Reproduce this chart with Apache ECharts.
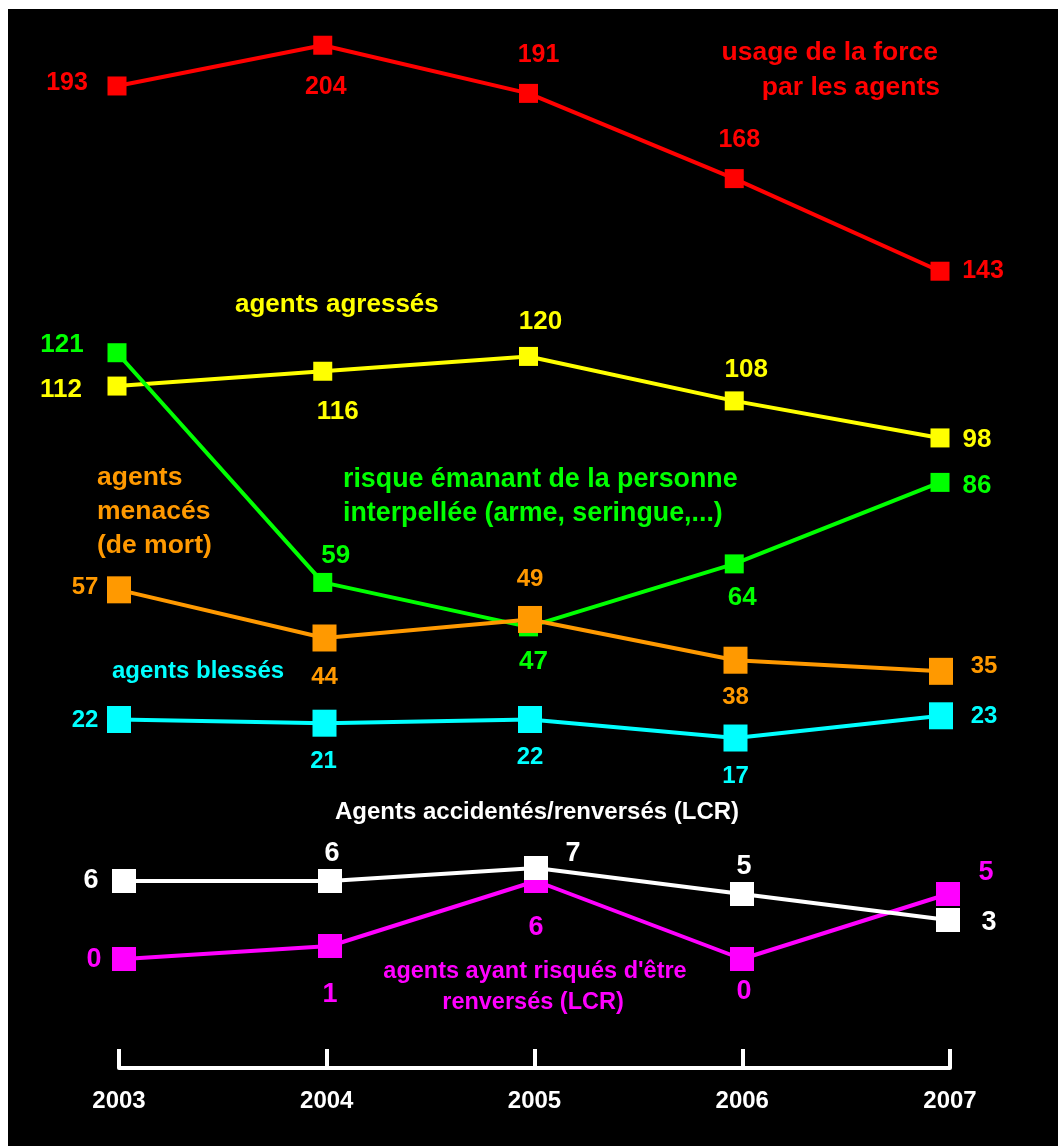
<!DOCTYPE html>
<html>
<head>
<meta charset="utf-8">
<script src="https://cdn.jsdelivr.net/npm/echarts@6/dist/echarts.min.js"></script>
<style>
  html, body { margin: 0; padding: 0; background: #ffffff; }
  #bg { position: absolute; left: 8px; top: 9px; width: 1050px; height: 1137px; background: #000000; }
  #chart { position: absolute; left: 0; top: 0; width: 1058px; height: 1146px; }
</style>
</head>
<body>
<div id="bg"></div>
<div id="chart"></div>
<script>
// ---- data ----
const years = ['2003', '2004', '2005', '2006', '2007'];
const usageForce = [193, 204, 191, 168, 143];
const agentsAgresses = [112, 116, 120, 108, 98];
const risquePersonne = [121, 59, 47, 64, 86];
const agentsMenaces = [57, 44, 49, 38, 35];
const agentsBlesses = [22, 21, 22, 17, 23];
const agentsAccidentes = [6, 6, 7, 5, 3];
const agentsRisques = [0, 1, 6, 0, 5];

// ---- label placement (offset of value label from its marker) ----
const offRed = [[-50, -3], [3, 42], [10, -38], [5, -38], [43, 0]];
const offYellow = [[-56, 4], [15, 41], [12, -35], [12, -31], [37, 2]];
const offGreen = [[-55, -8], [13, -27], [5, 35], [8, 34], [37, 3]];
const offOrange = [[-34, -2], [0, 39], [0, -40], [0, 37], [43, -5]];
const offCyan = [[-34, 1], [-1, 38], [0, 38], [0, 38], [43, 1]];
const offWhite = [[-33, 0], [2, -27], [37, -14], [2, -27], [41, 3]];
const offMagenta = [[-30, 1], [0, 49], [0, 47], [2, 33], [38, -21]];

const FONT = "'Liberation Sans', Arial, sans-serif";

function mkSeries(name, values, offsets, color, gridIdx, symSize, fontSize, z) {
  return {
    name: name,
    type: 'line',
    xAxisIndex: gridIdx,
    yAxisIndex: gridIdx,
    z: z,
    symbol: 'rect',
    symbolSize: symSize,
    showSymbol: true,
    lineStyle: { color: color, width: 4 },
    itemStyle: { color: color },
    emphasis: { disabled: true },
    data: values.map((v, i) => ({
      value: v,
      label: {
        show: true,
        position: 'inside',
        offset: offsets[i],
        color: color,
        fontSize: fontSize,
        fontWeight: 'bold',
        fontFamily: FONT
      }
    }))
  };
}

function txt(text, x, y, color, size, align) {
  return {
    type: 'text',
    z: 50,
    style: {
      text: text,
      x: x,
      y: y,
      fill: color,
      font: 'bold ' + size + 'px ' + FONT,
      align: align || 'left',
      verticalAlign: 'middle'
    }
  };
}

const hiddenX = (g) => ({
  gridIndex: g, type: 'category', data: years, boundaryGap: false, show: false
});
const hiddenY = (g, max) => ({
  gridIndex: g, type: 'value', min: 0, max: max, show: false, splitLine: { show: false }
});

const chart = echarts.init(document.getElementById('chart'));
chart.setOption({
  animation: false,
  backgroundColor: 'transparent',
  grid: [
    { left: 117, right: 118, top: 23, height: 778 },   // upper series
    { left: 124, right: 110, top: 829, height: 130 },  // lower series
    { left: 119, right: 108, top: 1000, height: 68 },  // year axis
    { left: 119, right: 117, top: 23, height: 778 }    // orange / cyan
  ],
  xAxis: [
    hiddenX(0),
    hiddenX(1),
    {
      gridIndex: 2, type: 'category', data: years, boundaryGap: false,
      axisLine: { show: true, lineStyle: { color: '#ffffff', width: 4 } },
      axisTick: { show: true, inside: true, length: 19, lineStyle: { color: '#ffffff', width: 4 } },
      axisLabel: { color: '#ffffff', fontSize: 24, fontWeight: 'bold', fontFamily: FONT, margin: 21 },
      splitLine: { show: false }
    },
    hiddenX(3)
  ],
  yAxis: [
    hiddenY(0, 210),
    hiddenY(1, 10),
    hiddenY(2, 1),
    hiddenY(3, 210)
  ],
  series: [
    mkSeries('usage de la force par les agents', usageForce, offRed, '#ff0000', 0, 19, 25, 2),
    mkSeries('agents agressés', agentsAgresses, offYellow, '#ffff00', 0, 19, 26, 3),
    mkSeries('risque émanant de la personne interpellée', risquePersonne, offGreen, '#00ff00', 0, 19, 26, 4),
    mkSeries('agents menacés (de mort)', agentsMenaces, offOrange, '#ff9900', 3, [24, 27], 24, 5),
    mkSeries('agents blessés', agentsBlesses, offCyan, '#00ffff', 3, [24, 27], 24, 6),
    mkSeries("agents ayant risqués d'être renversés (LCR)", agentsRisques, offMagenta, '#ff00ff', 1, 24, 27, 7),
    mkSeries('Agents accidentés/renversés (LCR)', agentsAccidentes, offWhite, '#ffffff', 1, 24, 27, 8)
  ],
  graphic: [
    txt('usage de la force', 938, 53, '#ff0000', 26.5, 'right'),
    txt('par les agents', 940, 88, '#ff0000', 26.5, 'right'),
    txt('agents agressés', 235, 305, '#ffff00', 26),
    txt('risque émanant de la personne', 343, 480, '#00ff00', 26.8),
    txt('interpellée (arme, seringue,...)', 343, 514, '#00ff00', 26.8),
    txt('agents', 97, 478, '#ff9900', 26.5),
    txt('menacés', 97, 512, '#ff9900', 26.5),
    txt('(de mort)', 97, 546, '#ff9900', 26.5),
    txt('agents blessés', 112, 671, '#00ffff', 24),
    txt('Agents accidentés/renversés (LCR)', 537, 812, '#ffffff', 24, 'center'),
    txt("agents ayant risqués d'être", 535, 972, '#ff00ff', 23.5, 'center'),
    txt('renversés (LCR)', 533, 1003, '#ff00ff', 23.5, 'center')
  ]
});
</script>
</body>
</html>
